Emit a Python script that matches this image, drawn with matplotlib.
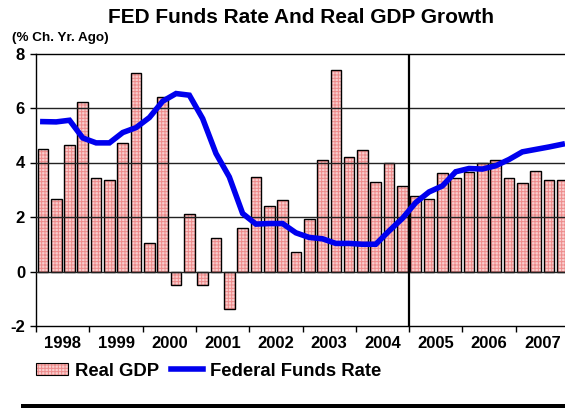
import matplotlib
matplotlib.use("Agg")
import matplotlib.pyplot as plt
from matplotlib.patches import Rectangle, Patch
from matplotlib.lines import Line2D
from matplotlib.legend_handler import HandlerTuple
import numpy as np

# Quarterly data, 1998Q1 .. 2007Q4
years = ["1998", "1999", "2000", "2001", "2002", "2003", "2004", "2005", "2006", "2007"]
real_gdp = [4.51, 2.65, 4.66, 6.21, 3.44, 3.34, 4.72, 7.28, 1.03, 6.41,
            -0.48, 2.10, -0.48, 1.22, -1.39, 1.59, 3.45, 2.41, 2.62, 0.72,
            1.94, 4.11, 7.40, 4.21, 4.46, 3.28, 4.00, 3.13, 2.78, 2.65,
            3.60, 3.44, 3.66, 4.00, 4.11, 3.44, 3.23, 3.69, 3.34, 3.34]
fed_funds = [5.50, 5.49, 5.55, 4.90, 4.72, 4.72, 5.10, 5.28, 5.65, 6.25,
             6.53, 6.47, 5.61, 4.33, 3.47, 2.13, 1.74, 1.76, 1.76, 1.42,
             1.25, 1.20, 1.03, 1.03, 1.00, 1.00, 1.49, 1.95, 2.53, 2.92,
             3.14, 3.66, 3.78, 3.76, 3.88, 4.11, 4.39, 4.48, 4.57, 4.67]
y_ticks = [-2, 0, 2, 4, 6, 8]
forecast_start = "2005"

plt.rcParams["font.family"] = ["Liberation Sans", "DejaVu Sans"]
plt.rcParams["font.weight"] = "bold"
plt.rcParams["hatch.linewidth"] = 0.7

FILL = "#f9cdcd"
HATCH_COLOR = "#ee8c8c"
HATCH = "+++++"
BLUE = "#0000ee"

W, H = 565, 408
fig = plt.figure(figsize=(W / 100, H / 100), dpi=100)
ax = fig.add_axes([36.2 / W, 82 / H, 532.7 / W, 272.5 / H])

x = np.arange(len(real_gdp))

# pink checkered fill, then black outline on top
ax.bar(x, real_gdp, width=0.8, color=FILL, edgecolor=HATCH_COLOR,
       hatch=HATCH, linewidth=0, zorder=2)
ax.bar(x, real_gdp, width=0.8, facecolor="none", edgecolor="black",
       linewidth=1.0, zorder=3)

# horizontal grid lines drawn over the bars
for v in y_ticks[1:-1]:
    ax.axhline(v, color="#222222", linewidth=1.0, zorder=4)

# divider between history and forecast
split = years.index(forecast_start) * 4 - 0.5
ax.axvline(split, color="black", linewidth=1.6, zorder=5)

ax.plot(x, fed_funds, color=BLUE, linewidth=4.0,
        solid_joinstyle="miter", zorder=6)

ax.set_xlim(-0.5, len(real_gdp) - 0.5)
ax.set_ylim(-2, 8)

ax.set_yticks(y_ticks)
ax.set_yticklabels([str(v) for v in y_ticks], fontsize=12, fontweight="bold")
ax.tick_params(axis="y", direction="out", length=4, width=1, pad=4)

ax.set_xticks([i * 4 + 1.5 for i in range(len(years))])
ax.set_xticklabels(years, fontsize=12, fontweight="bold")
ax.set_xticks([i * 4 - 0.5 for i in range(len(years) + 1)], minor=True)
ax.tick_params(axis="x", which="major", length=0, pad=7.5)
ax.tick_params(axis="x", which="minor", direction="out", length=4.5, width=1)

for side in ("left", "bottom", "top"):
    ax.spines[side].set_color("black")
    ax.spines[side].set_linewidth(1.0)
ax.spines["right"].set_visible(False)

fig.text(301.5 / W, 1 - 23.3 / H, "FED Funds Rate And Real GDP Growth",
         ha="center", va="baseline", fontsize=15, fontweight="bold")
fig.text(11.7 / W, 1 - 41 / H, "(% Ch. Yr. Ago)",
         ha="left", va="baseline", fontsize=9.7, fontweight="bold")

gdp_handle = (Patch(facecolor=FILL, edgecolor=HATCH_COLOR, hatch=HATCH, linewidth=0),
              Patch(facecolor="none", edgecolor="black", linewidth=0.8))
fed_handle = Line2D([0], [0], color=BLUE, linewidth=4.0)
fig.legend([gdp_handle, fed_handle], ["Real GDP", "Federal Funds Rate"],
           handler_map={tuple: HandlerTuple(ndivide=1)},
           loc="center left", bbox_to_anchor=(36 / W, 1 - 371 / H), ncol=2,
           frameon=False, prop={"size": 13.3, "weight": "bold"},
           handlelength=1.75, handleheight=0.6, handletextpad=0.35,
           columnspacing=0.65, borderpad=0, borderaxespad=0)

# heavy rule along the bottom edge
fig.patches.append(Rectangle((20.7 / W, 0), 1 - 20.7 / W, 4 / H,
                             transform=fig.transFigure, facecolor="black",
                             edgecolor="none"))

fig.savefig("out.png", dpi=100)
